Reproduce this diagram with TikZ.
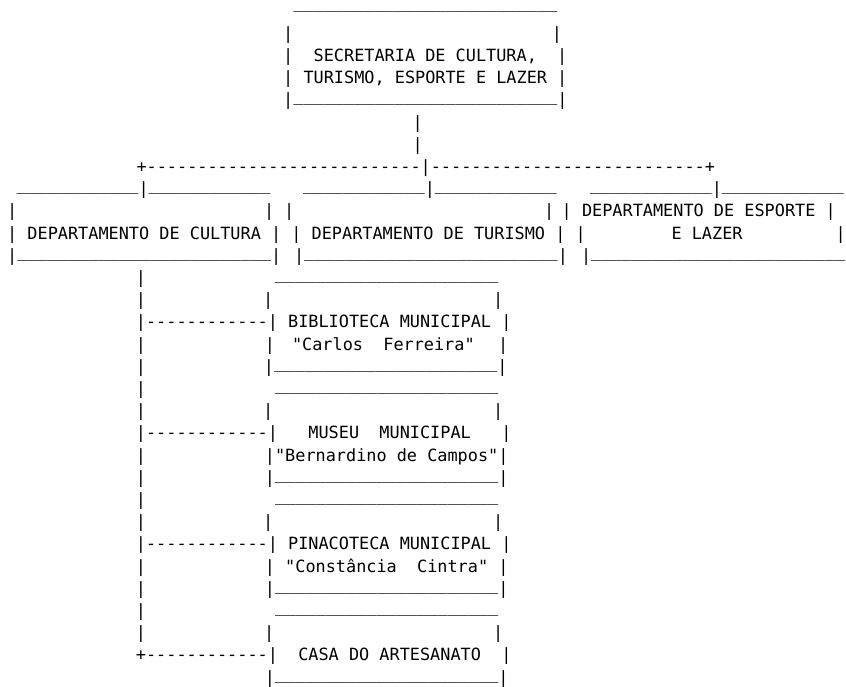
\documentclass[tikz,border=0pt]{standalone}
\usepackage{fontspec}
\setmonofont{DejaVu Sans Mono}
\newcommand\uscores[1]{\raisebox{4pt}{\foreach \k in {1,...,#1}{\_}}}

\begin{document}
\frenchspacing
\begin{tikzpicture}[x=1pt, y=-22.2pt,
    ascii/.style={anchor=base west, inner sep=0pt, outer sep=0pt,
                  font=\ttfamily\fontsize{16.86}{20}\selectfont}]
    \useasboundingbox (0,-0.7658) rectangle (846,30.18);

    \node[ascii] (secTop) at (293.3,-0.2) {\uscores{26}};
    \node[ascii] (secL) at (283.2,1) {|};
    \node[ascii] (secR) at (551.9,1) {|};
    \node[ascii] (secA) at (283.2,2) {|~~SECRETARIA DE CULTURA,~~|};
    \node[ascii] (secB) at (283.2,3) {| TURISMO, ESPORTE E LAZER |};
    \node[ascii] (secBot) at (283.2,4) {|\uscores{26}|};
    \node[ascii] (stemA) at (412.6,5) {|};
    \node[ascii] (stemB) at (412.6,6) {|};
    \node[ascii] (bus) at (136.5,7) {+---------------------------|---------------------------+};

    \node[ascii] (depTopC) at (16.7,8) {\uscores{12}|\uscores{12}};
    \node[ascii] (depTopT) at (303,8) {\uscores{12}|\uscores{12}};
    \node[ascii] (depTopE) at (590,8) {\uscores{12}|\uscores{12}};
    \node[ascii] (cultL) at (7.2,9) {|};
    \node[ascii] (cultR) at (264.2,9) {|};
    \node[ascii] (turL) at (284.2,9) {|};
    \node[ascii] (turR) at (544.2,9) {|};
    \node[ascii] (espA) at (561.7,9) {| DEPARTAMENTO DE ESPORTE |};
    \node[ascii] (depNames) at (7.2,10) {| DEPARTAMENTO DE CULTURA | | DEPARTAMENTO DE TURISMO | |};
    \node[ascii] (espB) at (671.5,10) {E LAZER};
    \node[ascii] (espR) at (835.5,10) {|};
    \node[ascii] (cultBot) at (7.2,11) {|\uscores{25}|};
    \node[ascii] (turBot) at (294,11) {|\uscores{25}|};
    \node[ascii] (espBot) at (581,11) {|\uscores{25}};

    \node[ascii] (trunk12) at (135.9,12) {|};
    \node[ascii] (bibTop) at (275,12) {\uscores{22}};
    \node[ascii] (trunk13) at (135.9,13) {|};
    \node[ascii] (bibL) at (263.2,13) {|};
    \node[ascii] (bibR) at (493.2,13) {|};
    \node[ascii] (bibA) at (135.9,14) {|------------| BIBLIOTECA MUNICIPAL |};
    \node[ascii] (trunk15) at (135.9,15) {|};
    \node[ascii] (bibL2) at (264.9,15) {|};
    \node[ascii] (bibB) at (292,15) {"Carlos~~Ferreira"};
    \node[ascii] (bibR2) at (498.2,15) {|};
    \node[ascii] (trunk16) at (135.9,16) {|};
    \node[ascii] (bibBot) at (263.9,16) {|\uscores{22}|};

    \node[ascii] (trunk17) at (135.9,17) {|};
    \node[ascii] (musTop) at (275,17) {\uscores{22}};
    \node[ascii] (trunk18) at (135.9,18) {|};
    \node[ascii] (musL) at (263.2,18) {|};
    \node[ascii] (musR) at (493.2,18) {|};
    \node[ascii] (musA) at (135.9,19) {|------------|~~~MUSEU~~MUNICIPAL~~~|};
    \node[ascii] (trunk20) at (135.9,20) {|};
    \node[ascii] (musB) at (264.9,20) {|"Bernardino de Campos"|};
    \node[ascii] (trunk21) at (135.9,21) {|};
    \node[ascii] (musBot) at (264.9,21) {|\uscores{22}|};

    \node[ascii] (trunk22) at (135.9,22) {|};
    \node[ascii] (pinTop) at (275,22) {\uscores{22}};
    \node[ascii] (trunk23) at (135.9,23) {|};
    \node[ascii] (pinL) at (263.2,23) {|};
    \node[ascii] (pinR) at (493.2,23) {|};
    \node[ascii] (pinA) at (135.9,24) {|------------| PINACOTECA MUNICIPAL |};
    \node[ascii] (trunk25) at (135.9,25) {|};
    \node[ascii] (pinB) at (264.9,25) {| "Constância~~Cintra" |};
    \node[ascii] (trunk26) at (135.9,26) {|};
    \node[ascii] (pinBot) at (264.9,26) {|\uscores{22}|};

    \node[ascii] (trunk27) at (135.9,27) {|};
    \node[ascii] (casTop) at (275,27) {\uscores{22}};
    \node[ascii] (trunk28) at (135.9,28) {|};
    \node[ascii] (casL) at (264,28) {|};
    \node[ascii] (casR) at (493.2,28) {|};
    \node[ascii] (casA) at (135.9,29) {+------------|~~CASA DO ARTESANATO~~|};
    \node[ascii] (casBot) at (264.9,30) {|\uscores{22}|};
\end{tikzpicture}
\end{document}
